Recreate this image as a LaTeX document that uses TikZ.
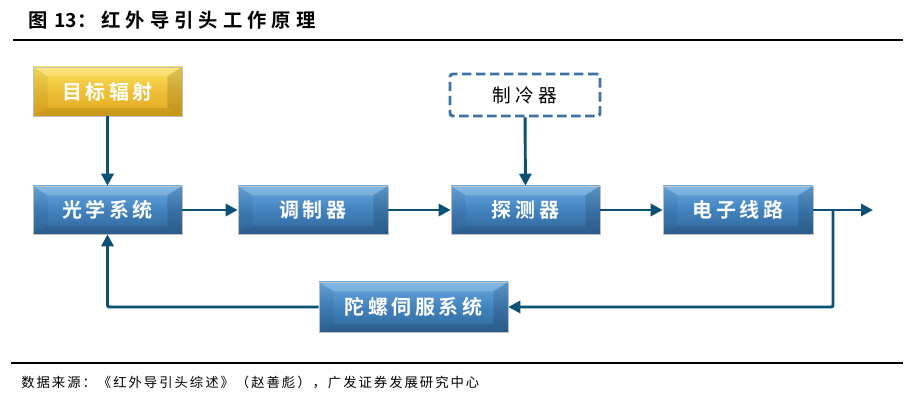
\documentclass[tikz,border=0pt]{standalone}
\usepackage{fontspec}
\usetikzlibrary{arrows.meta}
\newfontfamily\cjk{Noto Sans CJK SC}
\newfontfamily\cjkb{Noto Sans CJK SC Bold}
\definecolor{arrc}{HTML}{0B5075}
\definecolor{blueT}{HTML}{6AAAE2}
\definecolor{blueM}{HTML}{4282BE}
\definecolor{blueB}{HTML}{30689A}
\definecolor{yelT}{HTML}{FFE25E}
\definecolor{yelB}{HTML}{E2A91E}
\definecolor{dashc}{HTML}{3E72A3}
\begin{document}
\begin{tikzpicture}[x=0.75pt,y=-0.75pt,
  bev/.style={
    path picture={
      \fill[white,opacity=0.18] (path picture bounding box.north west) -- (path picture bounding box.north east)
        -- ([xshift=-11pt,yshift=-7pt]path picture bounding box.north east) -- ([xshift=11pt,yshift=-7pt]path picture bounding box.north west) -- cycle;
      \fill[black,opacity=0.06] (path picture bounding box.north west) -- ([xshift=11pt,yshift=-7pt]path picture bounding box.north west)
        -- ([xshift=11pt,yshift=6pt]path picture bounding box.south west) -- (path picture bounding box.south west) -- cycle;
      \fill[black,opacity=0.13] (path picture bounding box.north east) -- ([xshift=-11pt,yshift=-7pt]path picture bounding box.north east)
        -- ([xshift=-11pt,yshift=6pt]path picture bounding box.south east) -- (path picture bounding box.south east) -- cycle;
      \fill[black,opacity=0.10] (path picture bounding box.south west) -- ([xshift=11pt,yshift=6pt]path picture bounding box.south west)
        -- ([xshift=-11pt,yshift=6pt]path picture bounding box.south east) -- (path picture bounding box.south east) -- cycle;
    }},
  bluebox/.style={rectangle, inner sep=0pt, minimum height=48*0.75pt, top color=blueT, bottom color=blueB, middle color=blueM,
    draw=black!25, line width=0.4pt, bev, text=white, font=\cjkb\fontsize{15pt}{18pt}\selectfont\addfontfeatures{LetterSpace=18}},
  yelbox/.style={bluebox, top color=yelT, bottom color=yelB, middle color=yelB!60!yelT},
  dashbox/.style={rectangle, inner sep=0pt, draw=dashc, line width=2.2pt, dash pattern=on 7pt off 3.5pt, rounded corners=2pt,
    font=\cjk\fontsize{14pt}{17pt}\selectfont\addfontfeatures{LetterSpace=22}},
  arr/.style={draw=arrc, line width=2.2pt, -{Triangle[length=9pt,width=9pt]}, rounded corners=1.5pt},
  rule/.style={draw=black, line width=0.9pt}
]
\useasboundingbox (0,0) rectangle (914,402);
% title and rules
\node[anchor=west, inner sep=0pt, font=\cjkb\fontsize{14.5pt}{17pt}\selectfont] (title) at (28,20) {图\hspace{5pt}13{\addfontfeatures{LetterSpace=26}：红外导引头工作原理}};
\coordinate (tl) at (13,40); \coordinate (tr) at (903,40);
\draw[rule] (tl) -- (tr);
\coordinate (bl) at (11,363); \coordinate (br2) at (903,363);
\draw[rule] (bl) -- (br2);
\node[anchor=west, inner sep=0pt, font=\cjk\fontsize{10pt}{12pt}\selectfont\addfontfeatures{LetterSpace=15}] (src) at (21,383) {数据来源：《红外导引头综述》（赵善彪），广发证券发展研究中心};
% boxes
\node[yelbox, minimum width=149*0.75pt, minimum height=49*0.75pt] (tgt) at (107.5,91.5) {目标辐射};
\node[bluebox, minimum width=149*0.75pt] (opt) at (107.5,210) {光学系统};
\node[bluebox, minimum width=150*0.75pt] (mod) at (313,210) {调制器};
\node[bluebox, minimum width=149*0.75pt] (det) at (525.5,210) {探测器};
\node[bluebox, minimum width=150*0.75pt] (ele) at (738,210) {电子线路};
\node[dashbox, minimum width=150*0.75pt, minimum height=42*0.75pt] (cool) at (525,95) {制冷器};
\node[bluebox, minimum width=189*0.75pt, minimum height=50*0.75pt] (gyro) at (413.5,307) {陀螺伺服系统};
% connectors
\coordinate (out) at (873,210);
\coordinate (brn) at (833,210);
\draw[arr] (tgt) -- (opt);
\draw[arr] (opt) -- (mod);
\draw[arr] (mod) -- (det);
\draw[arr] (det) -- (ele);
\draw[arr] (cool) -- (det);
\draw[arr] (ele.east) -- (out);
\draw[arr] (brn) |- (gyro.east);
\draw[arr] (gyro.west) -| (opt.south);
\end{tikzpicture}
\end{document}
